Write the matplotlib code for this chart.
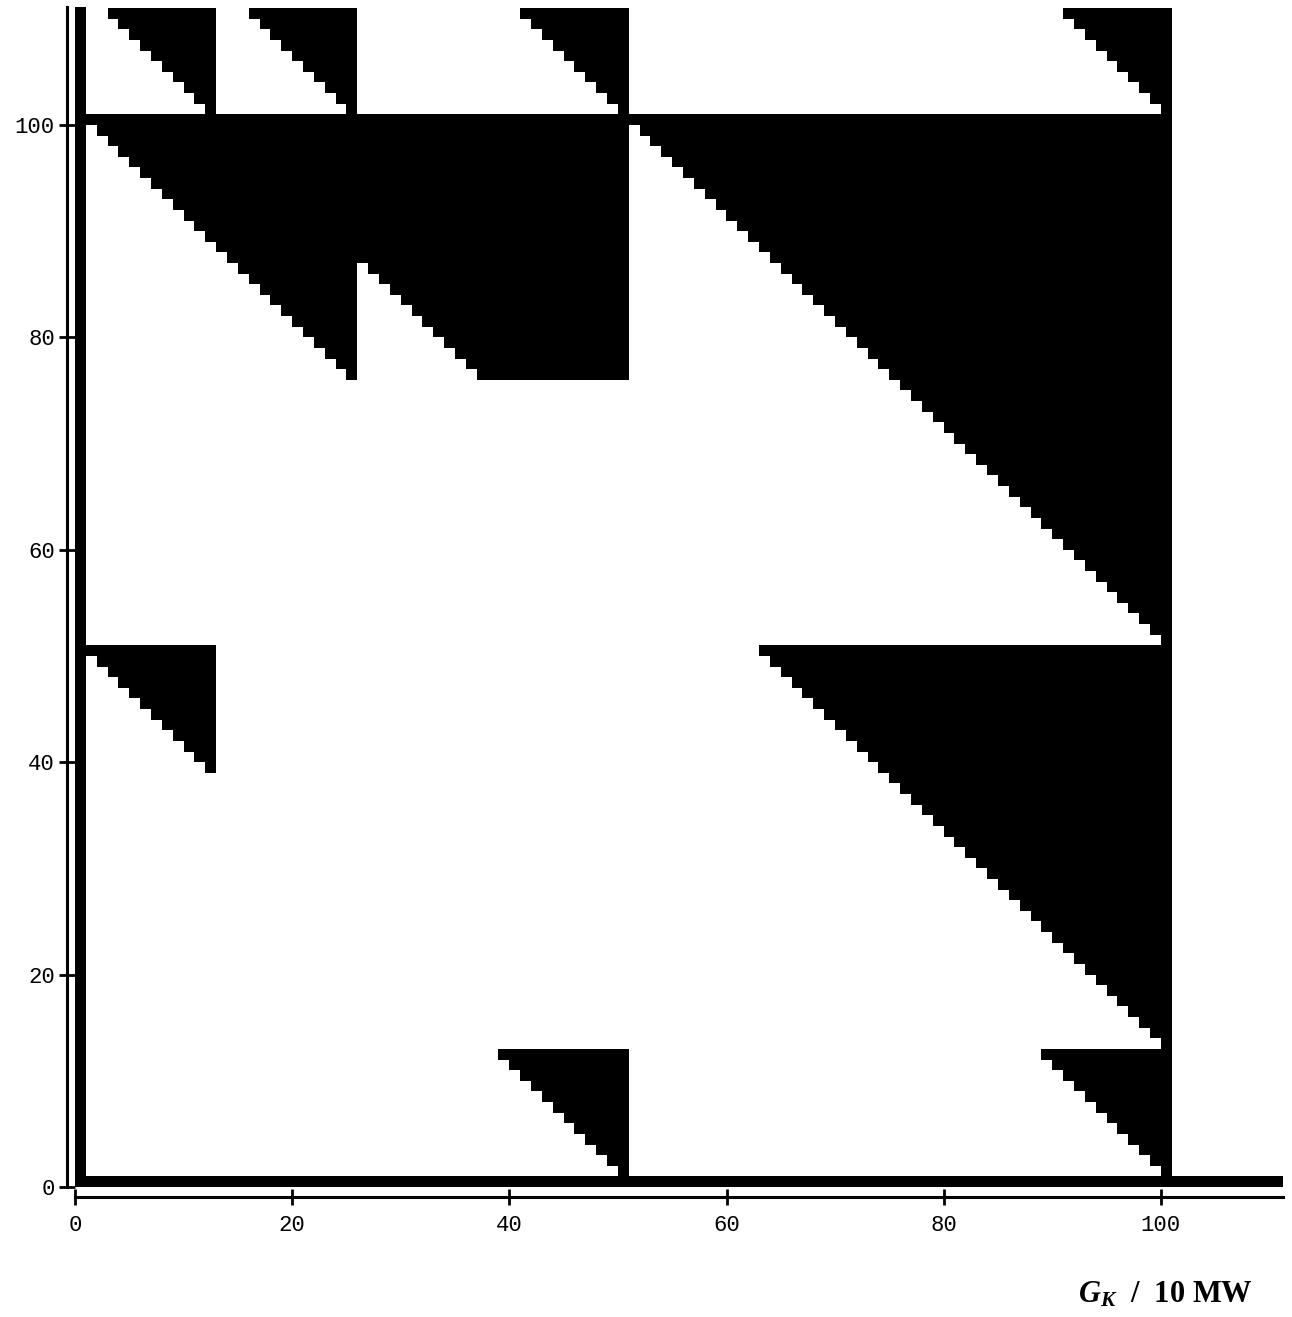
import numpy as np
import matplotlib.pyplot as plt

# cell grid: cell (c, r) covers [c, c+1] x [r, r+1]
n_cells = 112

# black blocks; inside a box a cell is black when c + r >= diag
# order: left bar, bottom bar, then the staircase triangles
block_c0 = [0, 0, 1, 26, 51, 1, 13, 51, 51, 1, 13, 26, 51]
block_c1 = [0, 111, 25, 50, 100, 12, 50, 100, 100, 12, 25, 50, 100]
block_r0 = [0, 0, 76, 76, 51, 1, 1, 13, 1, 101, 101, 101, 101]
block_r1 = [111, 0, 100, 100, 100, 50, 12, 50, 12, 110, 110, 110, 110]
block_diag = [0, 0, 101, 113, 151, 51, 51, 113, 101, 113, 126, 151, 201]

x_ticks = [0, 20, 40, 60, 80, 100]
y_ticks = [0, 20, 40, 60, 80, 100]
x_label = r'$G_K$  /  10 MW'

# build the black/white map
grid = np.zeros((n_cells, n_cells))
cc, rr = np.meshgrid(np.arange(n_cells), np.arange(n_cells))
for c0, c1, r0, r1, d in zip(block_c0, block_c1, block_r0, block_r1, block_diag):
    mask = (cc >= c0) & (cc <= c1) & (rr >= r0) & (rr <= r1) & (cc + rr >= d)
    grid[mask] = 1

plt.rcParams['mathtext.fontset'] = 'custom'
plt.rcParams['mathtext.rm'] = 'Liberation Serif:bold'
plt.rcParams['mathtext.it'] = 'Liberation Serif:italic:bold'

W, H = 1292, 1317
fig = plt.figure(figsize=(W / 100, H / 100), dpi=100)
ax = fig.add_axes([75 / W, 1 - 1187 / H, (1283 - 75) / W, (1187 - 7) / H])

ax.imshow(grid, cmap='gray_r', origin='lower', extent=[0, n_cells, 0, n_cells],
          interpolation='nearest', aspect='auto', vmin=0, vmax=1)
ax.set_xlim(0, 111.25)
ax.set_ylim(0, 111.1)

for s in ['top', 'right']:
    ax.spines[s].set_visible(False)
ax.spines['left'].set_position(('outward', 6))
ax.spines['bottom'].set_position(('outward', 7))
for s in ['left', 'bottom']:
    ax.spines[s].set_linewidth(2.2)

ax.set_xticks(x_ticks)
ax.set_yticks(y_ticks)
ax.tick_params(direction='inout', length=11, width=2, labelsize=16)
ax.tick_params(axis='x', pad=8)
ax.tick_params(axis='y', pad=3)
for lab in ax.get_xticklabels() + ax.get_yticklabels():
    lab.set_family('Liberation Mono')

fig.text(0.902, 0.011, x_label, ha='center', va='baseline',
         fontsize=22, family='Liberation Serif', weight='bold')

fig.savefig('out.png', dpi=100)
